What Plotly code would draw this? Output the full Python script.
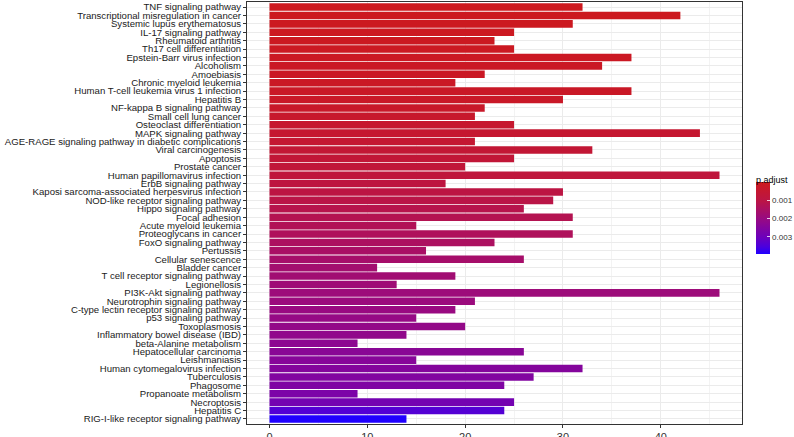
import plotly.graph_objects as go

categories = [
    "TNF signaling pathway", "Transcriptional misregulation in cancer", "Systemic lupus erythematosus",
    "IL-17 signaling pathway", "Rheumatoid arthritis", "Th17 cell differentiation",
    "Epstein-Barr virus infection", "Alcoholism", "Amoebiasis", "Chronic myeloid leukemia",
    "Human T-cell leukemia virus 1 infection", "Hepatitis B", "NF-kappa B signaling pathway",
    "Small cell lung cancer", "Osteoclast differentiation", "MAPK signaling pathway",
    "AGE-RAGE signaling pathway in diabetic complications", "Viral carcinogenesis", "Apoptosis",
    "Prostate cancer", "Human papillomavirus infection", "ErbB signaling pathway",
    "Kaposi sarcoma-associated herpesvirus infection", "NOD-like receptor signaling pathway",
    "Hippo signaling pathway", "Focal adhesion", "Acute myeloid leukemia", "Proteoglycans in cancer",
    "FoxO signaling pathway", "Pertussis", "Cellular senescence", "Bladder cancer",
    "T cell receptor signaling pathway", "Legionellosis", "PI3K-Akt signaling pathway",
    "Neurotrophin signaling pathway", "C-type lectin receptor signaling pathway",
    "p53 signaling pathway", "Toxoplasmosis", "Inflammatory bowel disease (IBD)",
    "beta-Alanine metabolism", "Hepatocellular carcinoma", "Leishmaniasis",
    "Human cytomegalovirus infection", "Tuberculosis", "Phagosome", "Propanoate metabolism",
    "Necroptosis", "Hepatitis C", "RIG-I-like receptor signaling pathway",
]

counts = [32, 42, 31, 25, 23, 25, 37, 34, 22, 19, 37, 30, 22, 21, 25, 44, 21, 33, 25, 20,
          46, 18, 30, 29, 26, 31, 15, 31, 23, 16, 26, 11, 19, 13, 46, 21, 19, 15, 20, 14,
          9, 26, 15, 32, 27, 24, 9, 25, 24, 14]

p_adjust = [0.000001, 0.00003, 0.00005, 0.00007, 0.00009, 0.00011, 0.00013, 0.00015, 0.00017,
            0.00019, 0.00021, 0.00024, 0.00030, 0.00036, 0.00042, 0.00048, 0.00054, 0.00060,
            0.00066, 0.00072, 0.00080, 0.00090, 0.00098, 0.00106, 0.00114, 0.00122, 0.00130,
            0.00138, 0.00146, 0.00154, 0.00162, 0.00170, 0.00176, 0.00182, 0.00188, 0.00194,
            0.00200, 0.00206, 0.00212, 0.00218, 0.00228, 0.00236, 0.00242, 0.00248, 0.00254,
            0.00260, 0.00268, 0.00285, 0.00340, 0.00395]

colorbar_ticks = [0.001, 0.002, 0.003]

# stops from low p.adjust (red) to high p.adjust (blue)
color_stops = [
    (0.0, "#CD191E"),
    (0.26, "#BB1545"),
    (0.51, "#980A82"),
    (0.77, "#6C00BC"),
    (0.9, "#4A00DE"),
    (1.0, "#2000FF"),
]

# colorbar is drawn reversed (small values on top), so map the negated values
neg_p = [-v for v in p_adjust]
colorscale = sorted([[1 - s, c] for s, c in color_stops])

fig = go.Figure()
fig.add_trace(go.Bar(
    x=counts,
    y=categories,
    orientation="h",
    marker=dict(
        color=neg_p,
        colorscale=colorscale,
        cmin=-max(p_adjust),
        cmax=-min(p_adjust),
        line=dict(width=0),
        colorbar=dict(
            title=dict(text="p.adjust", font=dict(size=9, color="#000000"), side="top"),
            tickvals=[-v for v in colorbar_ticks],
            ticktext=[str(v) for v in colorbar_ticks],
            tickfont=dict(size=8, color="#333333"),
            thickness=14,
            len=87,
            lenmode="pixels",
            x=756 / 794,
            xanchor="left",
            xref="container",
            y=1 - 173 / 437,
            yanchor="top",
            yref="container",
            outlinewidth=0,
            ticks="inside",
            ticklen=3,
            tickcolor="rgba(255,255,255,0.8)",
            xpad=0,
            ypad=0,
        ),
    ),
    hoverinfo="x+y",
))

fig.update_layout(
    width=794,
    height=437,
    margin=dict(l=247, r=52, t=1.5, b=12.5, autoexpand=False),
    paper_bgcolor="white",
    plot_bgcolor="white",
    bargap=0.1,
    font=dict(family="Liberation Sans, Arial, sans-serif", color="#4D4D4D"),
    showlegend=False,
)

fig.update_xaxes(
    range=[-2.3, 48.3],
    tickvals=[0, 10, 20, 30, 40],
    tickfont=dict(size=11, color="#333333"),
    ticks="outside",
    ticklen=3,
    tickcolor="#333333",
    showgrid=True,
    gridcolor="#EBEBEB",
    gridwidth=1,
    minor=dict(tickvals=[5, 15, 25, 35, 45], showgrid=True, gridcolor="#F3F3F3", gridwidth=0.5),
    showline=True,
    linecolor="#333333",
    linewidth=1,
    mirror=True,
    zeroline=False,
    automargin=False,
)

fig.update_yaxes(
    type="category",
    categoryorder="array",
    categoryarray=categories,
    tickmode="array",
    tickvals=categories,
    ticktext=categories,
    range=[49.6, -0.6],
    tickfont=dict(size=9.6, color="#1A1A1A"),
    ticks="outside",
    ticklen=3,
    tickcolor="#333333",
    showgrid=True,
    gridcolor="#EBEBEB",
    gridwidth=1,
    showline=True,
    linecolor="#333333",
    linewidth=1,
    mirror=True,
    zeroline=False,
    automargin=False,
)

fig.write_html(
    "out.html",
    config={"displayModeBar": False},
    post_script="document.body.style.margin='0';document.body.style.overflow='hidden';",
)
